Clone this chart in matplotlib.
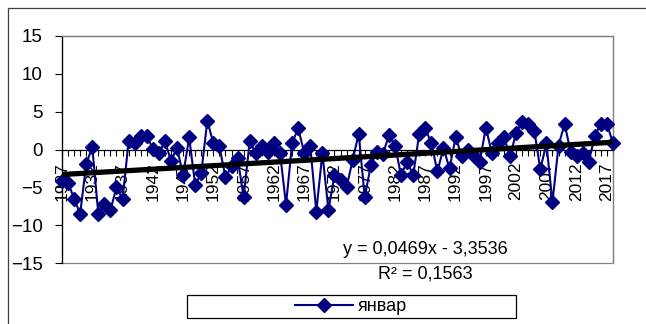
import numpy as np
import matplotlib
matplotlib.use("Agg")
import matplotlib.pyplot as plt
from matplotlib.patches import Rectangle

plt.rcParams["font.family"] = ["Liberation Sans", "DejaVu Sans"]

# data: january values 1927-2018
years = list(range(1927, 2019))
january = [
    -4.2, -4.4, -6.5, -8.5, -1.9, 0.3, -8.5, -7.2, -8.0, -5.0,
    -6.6, 1.1, 0.8, 1.8, 1.8, 0.1, -0.5, 1.1, -1.5, 0.2,
    -3.4, 1.6, -4.7, -3.1, 3.8, 0.8, 0.4, -3.7, -2.2, -1.1,
    -6.3, 1.1, -0.5, 0.4, -0.3, 0.8, -0.4, -7.3, 0.8, 2.8,
    -0.4, 0.5, -8.2, -0.5, -8.0, -3.4, -4.0, -5.0, -1.4, 2.1,
    -6.3, -2.1, -0.3, -0.6, 1.9, 0.5, -3.4, -1.6, -3.4, 2.1,
    2.8, 0.8, -2.9, 0.2, -2.5, 1.6, -0.8, -0.1, -0.9, -1.6,
    2.9, -0.5, 0.8, 1.6, -0.9, 2.2, 3.7, 3.4, 2.5, -2.6,
    0.8, -7.0, 0.5, 3.4, -0.3, -0.9, -0.5, -1.6, 1.8, 3.4,
    3.4, 0.8,
]
series_name = "январ"

# linear trend as given on the chart
slope = 0.0469
intercept = -3.3536
r2 = 0.1563

x = np.arange(1, len(years) + 1)

fig = plt.figure(figsize=(6.46, 3.24), dpi=100)
ax = fig.add_axes([62 / 646, 61 / 324, 551 / 646, 227 / 324])

line, = ax.plot(x, january, color="#000080", lw=1.5, marker="D",
                markersize=7.5, clip_on=False, zorder=3, label=series_name)
ax.plot(x, slope * x + intercept, color="black", lw=3.8, zorder=4,
        solid_capstyle="butt")

ax.set_xlim(1, len(years))
ax.set_ylim(-15, 15)
ax.set_yticks(np.arange(-15, 16, 5))

# category axis crosses at zero
ax.spines["bottom"].set_position(("data", 0))
ax.spines["bottom"].set_color("black")
ax.spines["bottom"].set_linewidth(0.9)
ax.spines["left"].set_color("black")
ax.spines["left"].set_linewidth(0.9)
for s in ["top", "right"]:
    ax.spines[s].set_color("#808080")
    ax.spines[s].set_linewidth(0.9)
ax.add_patch(Rectangle((0, 0), 1, 1, transform=ax.transAxes, fill=False,
                       ec="#808080", lw=0.9, zorder=0, clip_on=False))

ax.set_xticks(x)
ax.set_xticklabels([str(y) if (y - years[0]) % 5 == 0 else "" for y in years],
                   rotation=90, va="top", ha="center")
ax.tick_params(axis="x", direction="out", length=4, width=0.8, pad=5,
               labelsize=12.5)
ax.tick_params(axis="y", direction="out", length=5, width=0.8, pad=9,
               labelsize=13.5)

eq = f"y = {slope:.4f}x - {abs(intercept):.4f}".replace(".", ",")
fig.text(425 / 646, 1 - 249 / 324, eq, fontsize=13, ha="center", va="center")
fig.text(425 / 646, 1 - 274 / 324, f"R² = {r2:.4f}".replace(".", ","),
         fontsize=13, ha="center", va="center")

# outer chart frame (clipped on right and bottom)
fig.patches.append(Rectangle((8 / 646, -0.2), 1.2, 1.2 - 8 / 324,
                             transform=fig.transFigure, fill=False,
                             ec="#404040", lw=0.9))
# legend box
fig.patches.append(Rectangle((187 / 646, 6 / 324), 329 / 646, 23 / 324,
                             transform=fig.transFigure, fill=False,
                             ec="black", lw=0.9))
fig.legend(handles=[line], loc="center",
           bbox_to_anchor=(351 / 646, 1 - 306.5 / 324), frameon=False,
           fontsize=13, handlelength=3.2, handletextpad=0.3,
           borderpad=0, borderaxespad=0)

fig.savefig("out.png", dpi=100)
